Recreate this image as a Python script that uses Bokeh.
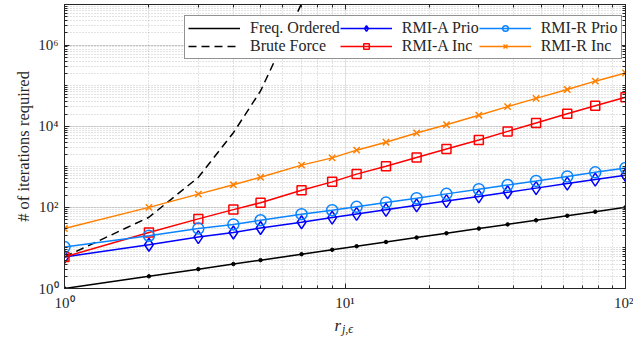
from bokeh.plotting import figure
from bokeh.models import (FixedTicker, LogAxis, Legend, LegendItem, Label)
from bokeh.embed import file_html
from bokeh.resources import INLINE

# ---- data ----
r_vals = [1, 2, 3, 4, 5, 7, 9, 11, 14, 18, 23, 30, 38, 48, 62, 78, 100]
freq_ordered = [1, 2, 3, 4, 5, 7, 9, 11, 14, 18, 23, 30, 38, 48, 62, 78, 100]
rmi_a_prio = [6, 12, 18.5, 24, 31, 43, 56, 69, 87, 112, 143, 186, 236, 298, 385, 484, 620]
rmi_r_prio = [10.5, 20, 30, 38, 48, 68, 85, 103, 131, 168, 215, 280, 355, 448, 580, 730, 935]
rmi_a_inc = [6, 24, 52, 88, 130, 265, 425, 660, 1030, 1690, 2750, 4570, 7460, 12000, 20200, 31800, 51600]
rmi_r_inc = [30, 100, 212, 360, 550, 1100, 1660, 2570, 4040, 6800, 10900, 18700, 30400, 48600, 80000, 129000, 205000]
brute_r = [1, 2, 3, 4, 5, 6, 7]
brute_force = [6, 57, 550, 6900, 74000, 1.1e6, 1.05e7]

x_major = [1, 10, 100]
x_minor = [k * 10 ** e for e in range(0, 2) for k in range(2, 10)]
y_major = [1, 1e2, 1e4, 1e6]
y_minor = [k * 10 ** e for e in range(0, 7) for k in range(2, 11)]
x_tick_labels = {1: "10\u2070", 10: "10\u00b9", 100: "10\u00b2"}
y_tick_labels = {1: "10\u2070", 100: "10\u00b2", 10000: "10\u2074", 1000000: "10\u2076"}

FONT = "Liberation Serif"
AX = "#262626"

p = figure(width=633, height=346, x_axis_type="log", y_axis_type="log",
           x_range=(1, 100), y_range=(1, 1e7), output_backend="svg",
           toolbar_location=None, min_border_left=64, min_border_right=8,
           min_border_top=4, min_border_bottom=54)
p.background_fill_color = "white"
p.border_fill_color = "white"
p.outline_line_color = AX

def style_axis(ax, ticks, minor, labels=None, show=True):
    ax.ticker = FixedTicker(ticks=ticks, minor_ticks=minor)
    ax.axis_line_color = AX
    ax.major_tick_line_color = AX
    ax.minor_tick_line_color = AX
    ax.major_tick_in = 5
    ax.major_tick_out = 0
    ax.minor_tick_in = 3
    ax.minor_tick_out = 0
    ax.major_label_text_font = FONT
    ax.major_label_text_color = AX
    if show:
        ax.major_label_text_font_size = "15px"
        ax.major_label_overrides = labels
    else:
        ax.major_label_text_font_size = "1px"
        ax.major_label_text_alpha = 0
        ax.major_label_standoff = 0

style_axis(p.xaxis[0], x_major, x_minor, x_tick_labels)
p.xaxis[0].major_label_standoff = 6
style_axis(p.yaxis[0], y_major, y_minor, y_tick_labels)
p.yaxis[0].major_label_standoff = 6
p.yaxis[0].axis_label = "# of iterations required"
p.yaxis[0].axis_label_text_font = FONT
p.yaxis[0].axis_label_text_font_size = "16.5px"
p.yaxis[0].axis_label_text_font_style = "normal"
p.yaxis[0].axis_label_text_color = AX
p.yaxis[0].axis_label_standoff = 2

top_ax = LogAxis()
style_axis(top_ax, x_major, x_minor, show=False)
p.add_layout(top_ax, "above")
right_ax = LogAxis()
style_axis(right_ax, y_major, y_minor, show=False)
p.add_layout(right_ax, "right")

for g in (p.xgrid[0], p.ygrid[0]):
    g.grid_line_color = "#000000"
    g.grid_line_alpha = 0.12
    g.grid_line_width = 1
    g.minor_grid_line_color = "#000000"
    g.minor_grid_line_alpha = 0.22
    g.minor_grid_line_dash = "1 2"
    g.minor_grid_line_width = 1
p.xgrid[0].ticker = FixedTicker(ticks=x_major, minor_ticks=x_minor)
p.ygrid[0].ticker = FixedTicker(ticks=y_major, minor_ticks=y_minor)

LW = 1.5
items = []
l1 = p.line(r_vals, freq_ordered, line_color="black", line_width=LW)
s1 = p.scatter(r_vals, freq_ordered, marker="circle", size=3.5, color="black")
items.append(LegendItem(label="Freq. Ordered", renderers=[l1]))

l2 = p.line(brute_r, brute_force, line_color="black", line_width=LW, line_dash="8 5")
items.append(LegendItem(label="Brute Force", renderers=[l2]))

l3 = p.line(r_vals, rmi_a_prio, line_color="#0000ff", line_width=LW)
s3 = p.scatter(r_vals, rmi_a_prio, marker="diamond", size=13, line_color="#0000ff",
               fill_color=None, line_width=LW)
items.append(LegendItem(label="RMI-A Prio", renderers=[l3, s3]))

l4 = p.line(r_vals, rmi_a_inc, line_color="#ff0000", line_width=LW)
s4 = p.scatter(r_vals, rmi_a_inc, marker="square", size=9, line_color="#ff0000",
               fill_color=None, line_width=LW)
items.append(LegendItem(label="RMI-A Inc", renderers=[l4, s4]))

l5 = p.line(r_vals, rmi_r_prio, line_color="#0a84ff", line_width=LW)
s5 = p.scatter(r_vals, rmi_r_prio, marker="circle", size=11, line_color="#0a84ff",
               fill_color=None, line_width=LW)
items.append(LegendItem(label="RMI-R Prio", renderers=[l5, s5]))

l6 = p.line(r_vals, rmi_r_inc, line_color="#ff8000", line_width=LW)
s6 = p.scatter(r_vals, rmi_r_inc, marker="x", size=9, line_color="#ff8000", line_width=LW)
items.append(LegendItem(label="RMI-R Inc", renderers=[l6, s6]))

legend = Legend(items=items, location=(120, 229), orientation="vertical", nrows=2)
legend.label_text_font = FONT
legend.label_text_font_size = "16px"
legend.label_text_color = AX
legend.glyph_width = 52
legend.glyph_height = 14
legend.label_height = 14
legend.label_standoff = 10
legend.spacing = 0
legend.padding = 3
legend.margin = 0
legend.border_line_color = AX
legend.border_line_width = 1
legend.background_fill_alpha = 1
p.add_layout(legend)

# x axis label r_{j,eps}, placed below the axis in data coordinates
p.add_layout(Label(x=10, y=10 ** (-37.5 / 41.0), x_units="data", y_units="data", text="r",
                   text_font=FONT, text_font_size="17px", text_font_style="italic",
                   text_color=AX, text_align="right", text_baseline="alphabetic",
                   x_offset=-4), "below")
p.add_layout(Label(x=10, y=10 ** (-40.5 / 41.0), x_units="data", y_units="data", text="j,\u03f5",
                   text_font=FONT, text_font_size="12px", text_font_style="italic",
                   text_color=AX, text_align="left", text_baseline="alphabetic",
                   x_offset=-3), "below")

open("out.html", "w").write(file_html(p, INLINE))
